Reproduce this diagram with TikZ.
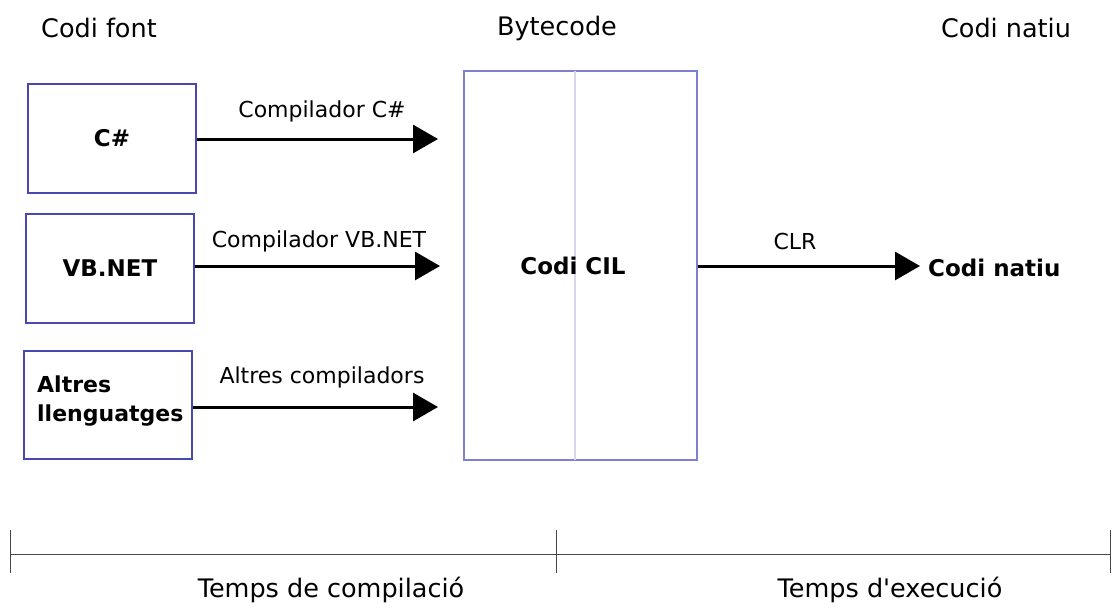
\documentclass[tikz,border=0pt]{standalone}
\usepackage{fontspec}
\setmainfont{DejaVu Sans}
\newfontfamily\plainfont{DejaVu Sans}
\usetikzlibrary{arrows.meta}
\definecolor{boxblue}{RGB}{72,72,176}
\definecolor{cilblue}{RGB}{128,128,208}
\definecolor{midline}{RGB}{214,214,236}
\definecolor{tline}{RGB}{70,70,70}
\tikzset{
  src/.style={draw=boxblue, line width=1.6pt, minimum width=168pt, minimum height=109pt, font=\fontsize{23}{29}\selectfont\bfseries, inner sep=0pt},
  arr/.style={line width=3pt, -{Triangle[length=25pt,width=28pt]}},
  lbl/.style={font=\fontsize{22}{26}\selectfont, inner sep=0pt},
  hdr/.style={font=\fontsize{25.5}{30}\selectfont, inner sep=0pt},
}
\begin{document}
\begin{tikzpicture}[x=1pt,y=-1pt]
\useasboundingbox (0,0) rectangle (1114,608);
% headers
\node[hdr] (hfont) at (99,28) {Codi font};
\node[hdr] (hbyte) at (557,28) {Bytecode};
\node[hdr] (hnat) at (1006,28) {Codi natiu};
% source boxes
\node[src] (cs) at (112,138.5) {C\#};
\node[src] (vb) at (110,268.5) {VB.NET};
\node[draw=boxblue, line width=1.6pt, minimum width=168pt, minimum height=108pt, inner sep=0pt] (alt) at (108,405) {};
\node[font=\fontsize{22}{29}\selectfont\bfseries, align=left, inner sep=0pt, anchor=west] (alttext) at (37,401) {Altres\\llenguatges};
% CIL box
\node[draw=cilblue, line width=1.2pt, minimum width=233pt, minimum height=389pt, inner sep=0pt] (cil) at (580.5,265.5) {};
\coordinate (mtop) at (575,71);
\coordinate (mbot) at (575,460);
\draw[midline, line width=1.5pt] (mtop) -- (mbot);
\node[font=\fontsize{23}{29}\selectfont\bfseries, inner sep=0pt] (ciltext) at (573,266) {Codi CIL};
% arrow targets
\coordinate (t1) at (438,139);
\coordinate (t2) at (440,266);
\coordinate (t3) at (438,407);
\coordinate (t4) at (920,266);
\draw[arr] (cs.east |- t1) -- (t1);
\draw[arr] (vb.east |- t2) -- (t2);
\draw[arr] (alt.east |- t3) -- (t3);
\node[lbl] (l1) at (322,111) {Compilador C\#};
\node[lbl] (l2) at (319,241) {Compilador VB.NET};
\node[lbl] (l3) at (322,377) {Altres compiladors};
% CLR
\node[font=\fontsize{23}{29}\selectfont\bfseries, inner sep=0pt, anchor=west] (nat) at (928,268) {Codi natiu};
\draw[arr] (cil.east |- t4) -- (t4);
\node[lbl] (clr) at (795,241) {CLR};
% timeline
\coordinate (ta) at (10,554);
\coordinate (tb) at (556,554);
\coordinate (tc) at (1110,554);
\draw[tline, line width=1pt] (ta) -- (tc);
\foreach \p in {ta,tb,tc} \draw[tline, line width=0.8pt] ([yshift=-19pt]\p) -- ([yshift=24pt]\p);
\node[hdr] (tcomp) at (331,590) {Temps de compilació};
\node[hdr] (texec) at (890,590) {Temps d{\plainfont '}execució};
\end{tikzpicture}
\end{document}
